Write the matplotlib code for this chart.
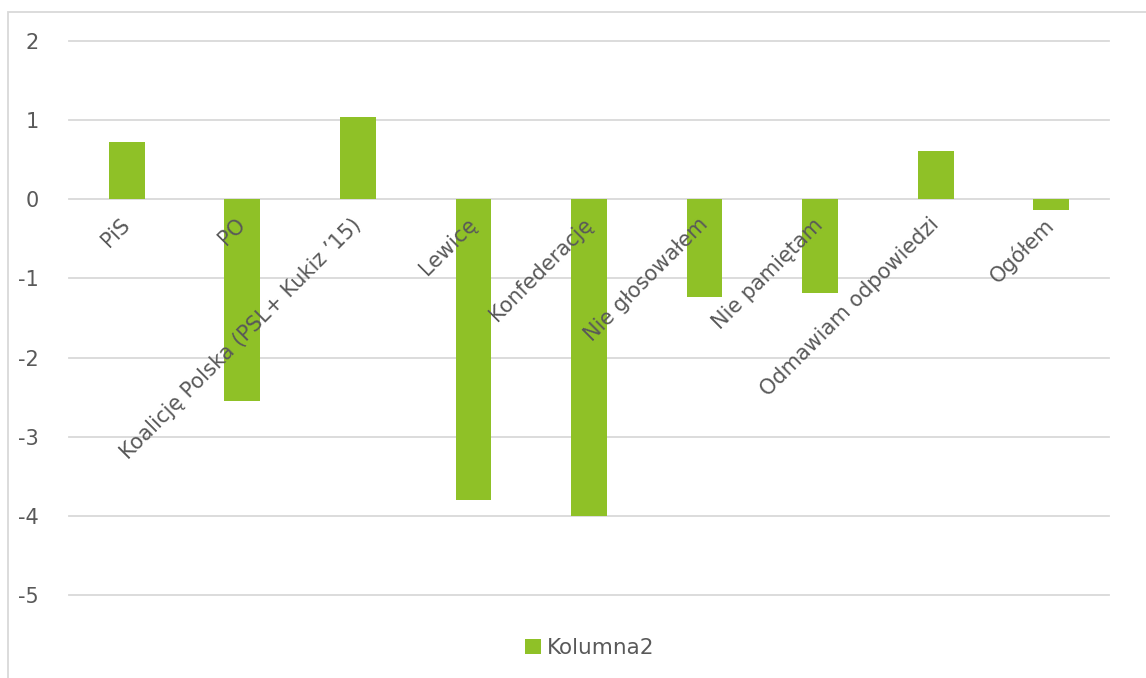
import numpy as np
import matplotlib.pyplot as plt
from matplotlib.patches import Rectangle

# dane
kategorie = ["PiS", "PO", "Koalicję Polska (PSL+ Kukiz \u201915)", "Lewicę",
             "Konfederację", "Nie głosowałem", "Nie pamiętam",
             "Odmawiam odpowiedzi", "Ogółem"]
kolumna2 = [0.73, -2.55, 1.04, -3.80, -4.00, -1.24, -1.18, 0.61, -0.14]
y_ticks = [2, 1, 0, -1, -2, -3, -4, -5]

zielony = "#8FC127"
szary = "#595959"

plt.rcParams['font.family'] = ['DejaVu Sans']

fig = plt.figure(figsize=(11.46, 6.78), dpi=100)
ax = fig.add_axes([69/1146, 1 - 595/678, (1109 - 69)/1146, (595 - 41)/678])

x = np.arange(len(kategorie))
ax.bar(x, kolumna2, width=0.31, color=zielony, label="Kolumna2", zorder=3)

ax.set_xlim(-0.5, len(kategorie) - 0.5)
ax.set_ylim(-5, 2)
ax.set_yticks(y_ticks)
ax.set_yticklabels([str(v) for v in y_ticks])
ax.grid(axis='y', color="#D9D9D9", linewidth=1.3)
for gl in ax.get_ygridlines():
    gl.set_clip_on(False)
ax.yaxis.set_zorder(0.5)
ax.xaxis.set_zorder(5)

for s in ['top', 'right', 'left']:
    ax.spines[s].set_visible(False)
ax.spines['bottom'].set_position(('data', 0))
ax.spines['bottom'].set_visible(False)

ax.set_xticks(x)
ax.set_xticklabels(kategorie, rotation=45, ha='right', va='center',
                   rotation_mode='anchor')
ax.tick_params(axis='x', length=0, pad=16, labelsize=15, colors=szary)
ax.tick_params(axis='y', length=0, pad=22, labelsize=15, colors=szary)

# ramka wykresu
fig.patches.append(Rectangle((8/1146, -0.1), 1.2, 1.1 - 12/678,
                             transform=fig.transFigure, fill=False,
                             edgecolor="#D9D9D9", linewidth=1.3))

fig.legend(loc='center', bbox_to_anchor=(590/1146, 1 - 648/678), frameon=False,
           fontsize=15.5, labelcolor=szary, handlelength=0.7, handleheight=0.7,
           handletextpad=0.3)

fig.savefig("out.png", dpi=100)
